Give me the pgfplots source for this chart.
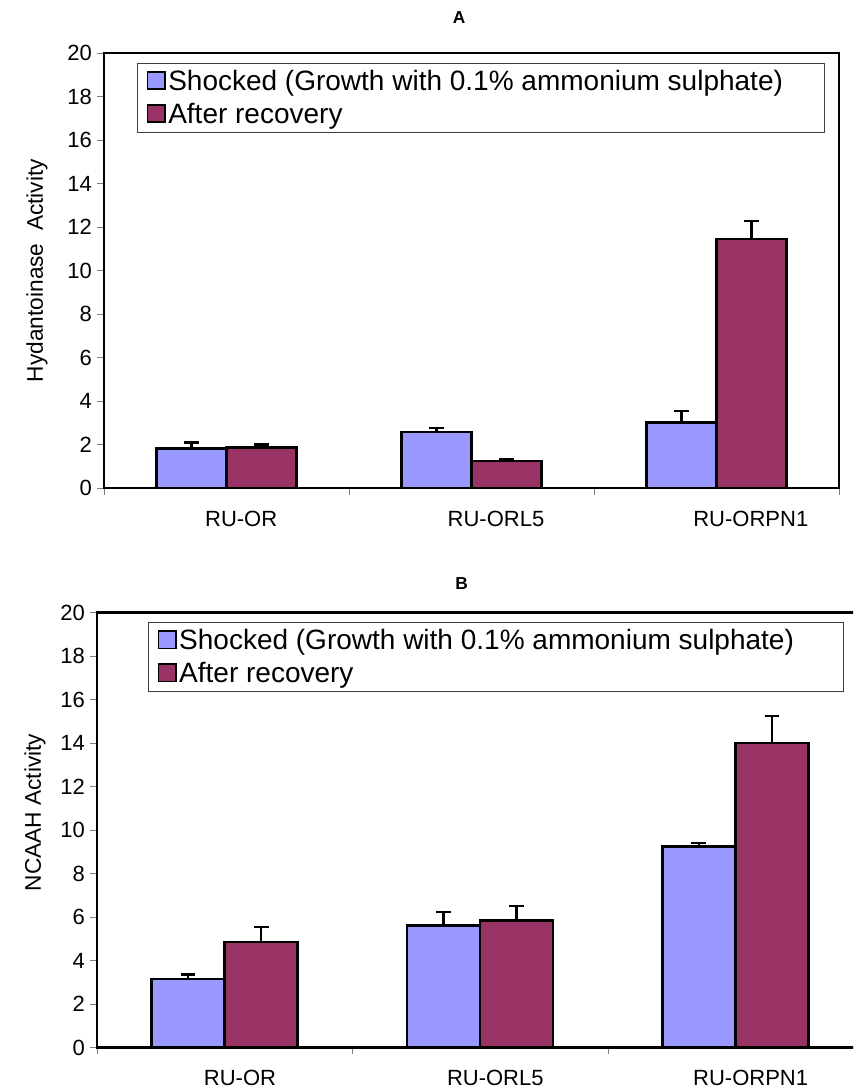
\documentclass[border=0pt]{standalone}
\usepackage{fontspec}
\setmainfont{Liberation Sans}
\usepackage{pgfplots}
\pgfplotsset{compat=1.18}
\definecolor{shock}{HTML}{9999FF}
\definecolor{recov}{HTML}{993366}
\def\u{0.75pt}
\pgfplotsset{
  panel/.style={
    scale only axis,
    height=326.25pt,
    xmin=-0.5, xmax=2.5, ymin=0, ymax=20,
    ytick={0,2,...,20},
    xticklabels={RU-OR,RU-ORL5,RU-ORPN1},
    minor xtick={-0.5,0.5,1.5,2.5},
    tick align=outside, tick pos=left,
    major tick length=5pt, minor tick length=5pt,
    major x tick style={draw=none},
    line width=1.7pt,
    tick label style={font=\fontsize{16.5}{19}\selectfont, black},
    xticklabel style={yshift=-8pt},
    /pgf/number format/assume math mode=true,
    label style={font=\fontsize{17}{20}\selectfont},
    title style={font=\fontsize{13}{15}\selectfont\bfseries},
    legend cell align=left,
    legend image code/.code={\draw[draw=black, line width=1.1pt, ##1] (0pt,-6pt) rectangle (13pt,7pt);},
    legend style={anchor=north west, draw=black!75, line width=0.6pt,
      font=\fontsize{21}{24}\selectfont, inner xsep=7pt, inner ysep=3pt,
      row sep=4pt},
  },
  sbar/.style={ybar, bar width=0.286, bar shift=0pt, fill=shock, draw=black, line width=1.9pt,
    error bars/.cd, y dir=plus, y explicit,
    error bar style={line width=1.6pt, black},
    error mark options={rotate=90, mark size=5.5pt, line width=1.6pt, black}},
  rbar/.style={ybar, bar width=0.286, bar shift=0pt, fill=recov, draw=black, line width=1.9pt,
    error bars/.cd, y dir=plus, y explicit,
    error bar style={line width=1.6pt, black},
    error mark options={rotate=90, mark size=5.5pt, line width=1.6pt, black}},
}
\begin{document}
\begin{tikzpicture}
\useasboundingbox (0,0) rectangle (853*\u,-1092*\u);
\clip (0,0) rectangle (853*\u,-1092*\u);
% Panel A
\begin{axis}[panel,
  at={(104*\u,-488*\u)}, anchor=south west,
  width=551.25pt,
  xtick={0.06,1.1,2.14},
  ylabel={Hydantoinase\ \ Activity},
  ylabel style={at={(axis description cs:-0.091,0.5)}, anchor=center},
  title={A}, title style={at={(axis description cs:0.483,1.062)}, anchor=center},
  legend style={at={(axis description cs:0.045,0.977)}},
]
\addplot[sbar] coordinates {(-0.143,1.82) +- (0,0.27) (0.857,2.57) +- (0,0.2) (1.857,3.0) +- (0,0.54)};
\addplot[rbar] coordinates {(0.143,1.86) +- (0,0.14) (1.143,1.25) +- (0,0.1) (2.143,11.45) +- (0,0.83)};
\legend{Shocked (Growth with 0.1\% ammonium sulphate)\hspace{22pt}\mbox{}, After recovery}
\end{axis}
% Panel B
\begin{axis}[panel,
  at={(97*\u,-1047.5*\u)}, anchor=south west,
  width=574.5pt,
  xtick={0.06,1.06,2.06},
  ylabel={NCAAH Activity},
  ylabel style={at={(axis description cs:-0.081,0.54)}, anchor=center},
  title={B}, title style={at={(axis description cs:0.476,1.048)}, anchor=center},
  legend style={at={(axis description cs:0.0666,0.978)}},
]
\addplot[sbar] coordinates {(-0.143,3.14) +- (0,0.22) (0.857,5.6) +- (0,0.63) (1.857,9.24) +- (0,0.15)};
\addplot[rbar] coordinates {(0.143,4.85) +- (0,0.7) (1.143,5.83) +- (0,0.66) (2.143,13.99) +- (0,1.26)};
\legend{Shocked (Growth with 0.1\% ammonium sulphate)\hspace{28pt}\mbox{}, After recovery}
\end{axis}
\end{tikzpicture}
\end{document}
